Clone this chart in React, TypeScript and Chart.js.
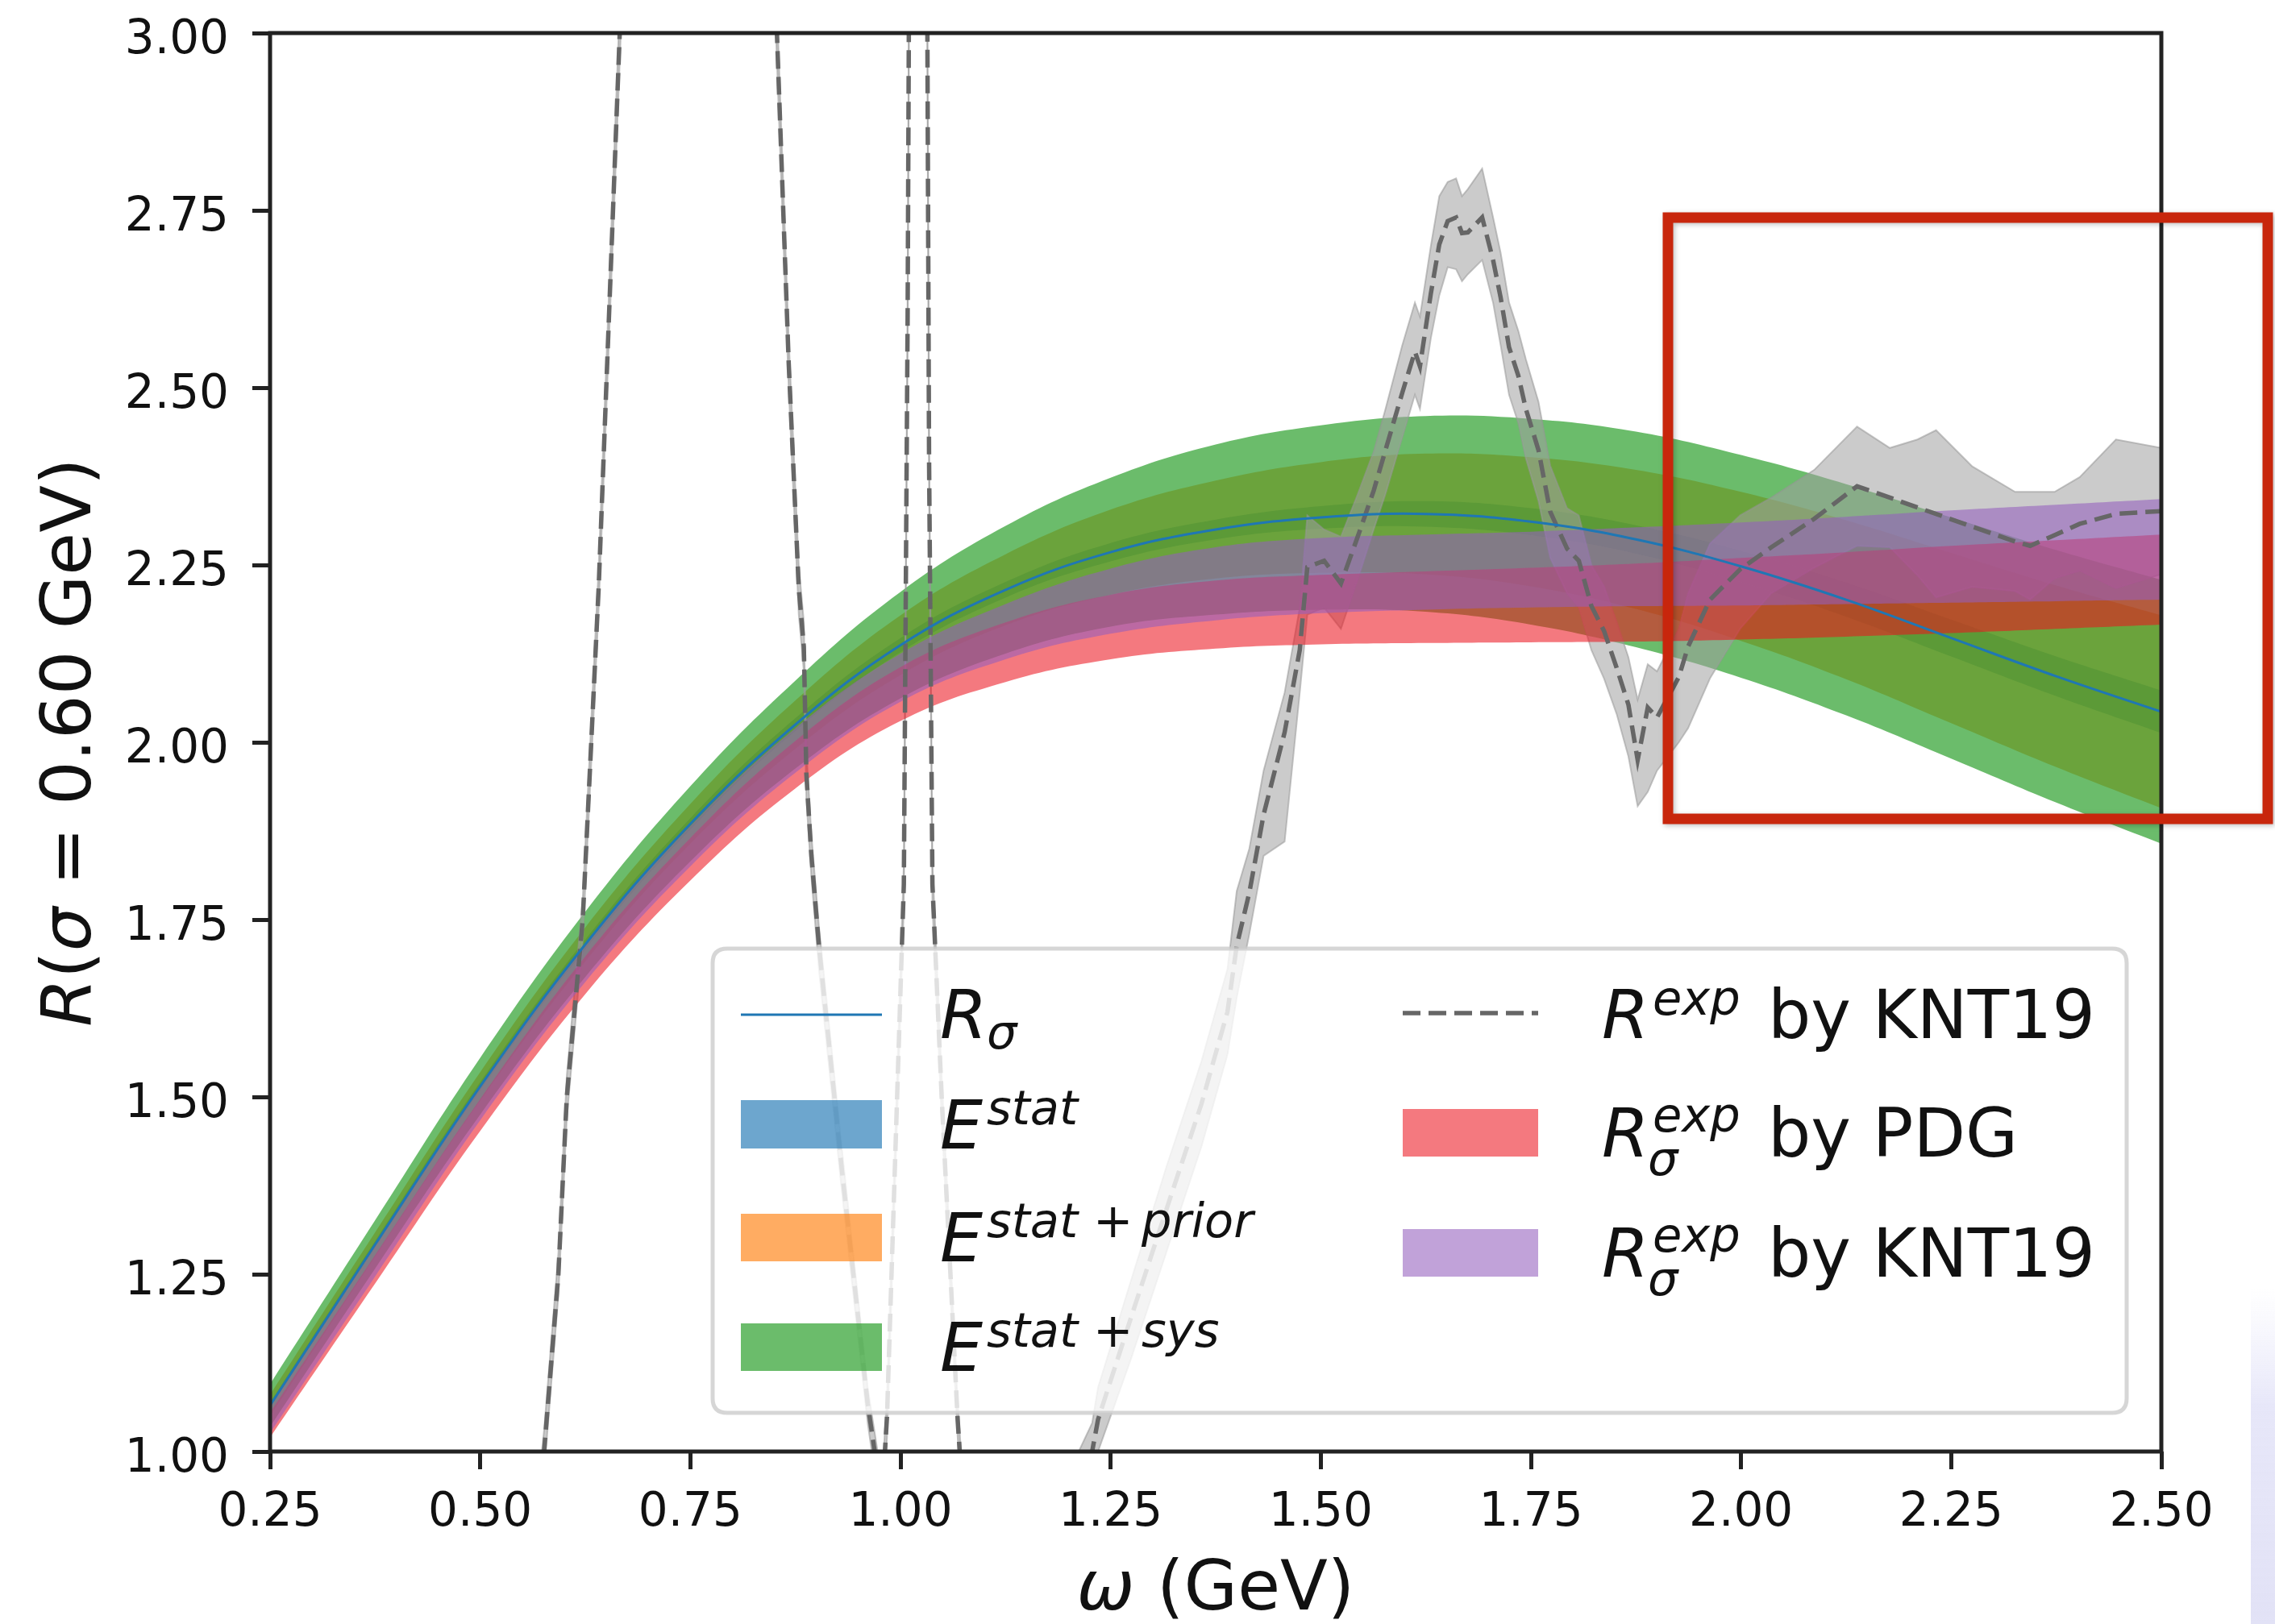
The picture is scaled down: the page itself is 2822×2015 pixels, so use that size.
import React, { useEffect, useRef } from 'react';
import { Chart, registerables } from 'chart.js';

Chart.register(...registerables);

const W = 2822;
const H = 2015;
const FONT = '"DejaVu Sans", "Noto Sans", sans-serif';

// ---- model curve and its error bands (ω grid in GeV) ----
const omegaGrid = [0.25, 0.375, 0.5, 0.625, 0.75, 0.875, 1.0, 1.125, 1.25, 1.375, 1.5, 1.625, 1.75, 1.875, 2.0, 2.125, 2.25, 2.375, 2.5];
const rSigma = [1.065, 1.292, 1.515, 1.715, 1.885, 2.025, 2.137, 2.215, 2.268, 2.3, 2.317, 2.322, 2.311, 2.286, 2.248, 2.201, 2.147, 2.093, 2.043];
const statLo = [1.061, 1.287, 1.509, 1.708, 1.877, 2.016, 2.127, 2.204, 2.255, 2.286, 2.301, 2.304, 2.292, 2.266, 2.226, 2.177, 2.121, 2.065, 2.013];
const statHi = [1.069, 1.297, 1.521, 1.722, 1.893, 2.034, 2.147, 2.226, 2.281, 2.314, 2.333, 2.34, 2.33, 2.306, 2.27, 2.225, 2.173, 2.121, 2.073];
const priorLo = [1.05, 1.275, 1.495, 1.691, 1.857, 1.991, 2.095, 2.165, 2.208, 2.231, 2.239, 2.237, 2.22, 2.188, 2.143, 2.089, 2.027, 1.965, 1.907];
const priorHi = [1.08, 1.309, 1.535, 1.739, 1.913, 2.059, 2.179, 2.265, 2.328, 2.369, 2.395, 2.407, 2.402, 2.384, 2.353, 2.313, 2.267, 2.221, 2.179];
const sysLo = [1.035, 1.258, 1.475, 1.669, 1.832, 1.963, 2.062, 2.125, 2.163, 2.18, 2.187, 2.184, 2.166, 2.134, 2.091, 2.038, 1.977, 1.915, 1.857];
const sysHi = [1.095, 1.326, 1.555, 1.761, 1.938, 2.087, 2.212, 2.305, 2.373, 2.42, 2.447, 2.46, 2.456, 2.438, 2.405, 2.364, 2.317, 2.271, 2.229];

// ---- smeared experimental ratio bands ----
const pdgLo = [1.02, 1.237, 1.452, 1.645, 1.805, 1.935, 2.03, 2.085, 2.117, 2.132, 2.138, 2.14, 2.141, 2.142, 2.145, 2.149, 2.154, 2.16, 2.166];
const pdgHi = [1.055, 1.277, 1.497, 1.698, 1.865, 2.002, 2.106, 2.169, 2.208, 2.228, 2.236, 2.241, 2.246, 2.252, 2.26, 2.268, 2.277, 2.285, 2.293];
const kntSigmaLo = [1.026, 1.247, 1.467, 1.662, 1.825, 1.957, 2.057, 2.117, 2.153, 2.172, 2.182, 2.187, 2.19, 2.192, 2.193, 2.195, 2.197, 2.199, 2.201];
const kntSigmaHi = [1.063, 1.29, 1.514, 1.714, 1.882, 2.02, 2.125, 2.195, 2.245, 2.275, 2.288, 2.293, 2.297, 2.303, 2.31, 2.318, 2.327, 2.335, 2.343];

// ---- unsmeared R ratio (KNT19 compilation) with its uncertainty ----
const kntOmega = [0.25, 0.4, 0.5, 0.55, 0.576, 0.593, 0.603, 0.622, 0.641, 0.666, 0.7, 0.775, 0.84, 0.853, 0.867, 0.879, 0.885, 0.888, 0.894, 0.903, 0.93, 0.961, 0.978, 0.984, 0.996, 1.004, 1.0085, 1.011, 1.02, 1.031, 1.034, 1.038, 1.049, 1.068, 1.076, 1.1, 1.15, 1.2, 1.228, 1.235, 1.274, 1.316, 1.358, 1.389, 1.4, 1.415, 1.432, 1.457, 1.475, 1.484, 1.504, 1.524, 1.544, 1.563, 1.577, 1.597, 1.612, 1.618, 1.631, 1.641, 1.651, 1.661, 1.668, 1.675, 1.692, 1.705, 1.714, 1.724, 1.735, 1.744, 1.759, 1.773, 1.793, 1.807, 1.822, 1.837, 1.852, 1.866, 1.877, 1.889, 1.9, 1.926, 1.937, 1.963, 1.999, 2.036, 2.087, 2.138, 2.177, 2.21, 2.232, 2.275, 2.326, 2.344, 2.373, 2.403, 2.446, 2.5];
const kntR = [0.1, 0.25, 0.45, 0.7, 1.0, 1.25, 1.5, 1.75, 2.22, 3.0, 4.1, 9.0, 3.43, 3.0, 2.535, 2.217, 2.135, 1.956, 1.84, 1.713, 1.4, 1.067, 0.93, 1.05, 1.5, 1.8, 2.6, 3.3, 20, 3.3, 2.4, 1.8, 1.5, 1.045, 0.9, 0.8, 0.82, 0.92, 1.0, 1.045, 1.188, 1.34, 1.49, 1.62, 1.713, 1.788, 1.898, 2.014, 2.13, 2.247, 2.256, 2.224, 2.29, 2.355, 2.412, 2.493, 2.551, 2.53, 2.633, 2.702, 2.735, 2.74, 2.718, 2.719, 2.74, 2.68, 2.627, 2.557, 2.517, 2.47, 2.412, 2.325, 2.273, 2.256, 2.192, 2.157, 2.105, 2.053, 1.975, 2.049, 2.035, 2.092, 2.135, 2.201, 2.244, 2.275, 2.315, 2.361, 2.345, 2.331, 2.322, 2.304, 2.283, 2.277, 2.292, 2.308, 2.322, 2.326];
const kntLo = [0.09, 0.23, 0.42, 0.67, 0.97, 1.22, 1.47, 1.72, 2.19, 2.96, 4.0, 8.8, 3.39, 2.96, 2.5, 2.18, 2.1, 1.92, 1.81, 1.68, 1.37, 1.04, 0.9, 1.02, 1.47, 1.77, 2.56, 3.25, 19.5, 3.25, 2.36, 1.77, 1.47, 1.02, 0.87, 0.76, 0.78, 0.88, 0.96, 1.0, 1.13, 1.28, 1.43, 1.56, 1.64, 1.73, 1.84, 1.86, 2.07, 2.18, 2.19, 2.16, 2.23, 2.3, 2.35, 2.43, 2.49, 2.47, 2.57, 2.63, 2.67, 2.667, 2.65, 2.66, 2.68, 2.62, 2.56, 2.49, 2.45, 2.4, 2.34, 2.26, 2.21, 2.19, 2.13, 2.09, 2.04, 1.98, 1.91, 1.93, 1.96, 2.0, 2.02, 2.09, 2.16, 2.21, 2.246, 2.277, 2.275, 2.235, 2.204, 2.219, 2.213, 2.201, 2.231, 2.242, 2.217, 2.237];
const kntHi = [0.11, 0.27, 0.48, 0.73, 1.03, 1.28, 1.53, 1.78, 2.25, 3.04, 4.2, 9.2, 3.47, 3.04, 2.57, 2.25, 2.17, 1.99, 1.87, 1.74, 1.43, 1.09, 0.96, 1.08, 1.53, 1.83, 2.64, 3.35, 20.5, 3.35, 2.44, 1.83, 1.53, 1.07, 0.93, 0.85, 0.87, 0.97, 1.04, 1.09, 1.24, 1.4, 1.55, 1.68, 1.79, 1.85, 1.96, 2.07, 2.19, 2.32, 2.3, 2.29, 2.35, 2.41, 2.47, 2.56, 2.62, 2.6, 2.7, 2.77, 2.79, 2.795, 2.77, 2.78, 2.809, 2.74, 2.69, 2.62, 2.58, 2.54, 2.48, 2.39, 2.33, 2.32, 2.25, 2.22, 2.17, 2.12, 2.06, 2.11, 2.1, 2.16, 2.21, 2.28, 2.32, 2.345, 2.384, 2.445, 2.415, 2.427, 2.44, 2.389, 2.353, 2.353, 2.353, 2.374, 2.427, 2.415];

// ---- axis ticks ----
const xTicks = [0.25, 0.5, 0.75, 1.0, 1.25, 1.5, 1.75, 2.0, 2.25, 2.5];
const xTickLabels = ['0.25', '0.50', '0.75', '1.00', '1.25', '1.50', '1.75', '2.00', '2.25', '2.50'];
const yTicks = [1.0, 1.25, 1.5, 1.75, 2.0, 2.25, 2.5, 2.75, 3.0];
const yTickLabels = ['1.00', '1.25', '1.50', '1.75', '2.00', '2.25', '2.50', '2.75', '3.00'];

// ---- styling ----
const C_STAT = 'rgba(31,119,180,0.65)';
const C_PRIOR = 'rgba(255,127,14,0.65)';
const C_SYS = 'rgba(44,160,44,0.7)';
const C_PDG = 'rgba(235,20,30,0.57)';
const C_KNTS = 'rgba(148,95,190,0.58)';
const C_GRAY = 'rgba(160,160,160,0.55)';
const C_DASH = '#666666';
const C_LINE = '#1f77b4';
const INK = '#111111';
const SPINE = '#222222';

const AREA = { left: 335, top: 41, right: 2681, bottom: 1801 };

type Run = { t: string; it?: boolean; s: number; dy?: number; x?: number };

function drawRuns(ctx: CanvasRenderingContext2D, x0: number, y: number, runs: Run[]) {
  let x = x0;
  for (const r of runs) {
    if (r.x !== undefined) x = r.x;
    ctx.font = `${r.it ? 'italic ' : ''}${r.s}px ${FONT}`;
    ctx.fillText(r.t, x, y + (r.dy || 0));
    x += ctx.measureText(r.t).width;
  }
  return x;
}

function runsWidth(ctx: CanvasRenderingContext2D, runs: Run[]) {
  let w = 0;
  for (const r of runs) {
    ctx.font = `${r.it ? 'italic ' : ''}${r.s}px ${FONT}`;
    w += ctx.measureText(r.t).width;
  }
  return w;
}

function roundRect(ctx: CanvasRenderingContext2D, x: number, y: number, w: number, h: number, r: number) {
  ctx.beginPath();
  ctx.moveTo(x + r, y);
  ctx.lineTo(x + w - r, y);
  ctx.quadraticCurveTo(x + w, y, x + w, y + r);
  ctx.lineTo(x + w, y + h - r);
  ctx.quadraticCurveTo(x + w, y + h, x + w - r, y + h);
  ctx.lineTo(x + r, y + h);
  ctx.quadraticCurveTo(x, y + h, x, y + h - r);
  ctx.lineTo(x, y + r);
  ctx.quadraticCurveTo(x, y, x + r, y);
  ctx.closePath();
}

const legendPlugin = {
  id: 'mathLegend',
  afterDatasetsDraw(chart: any) {
    const ctx: CanvasRenderingContext2D = chart.ctx;
    ctx.save();
    // frame
    roundRect(ctx, 884, 1177, 1754, 576, 18);
    ctx.fillStyle = 'rgba(255,255,255,0.8)';
    ctx.fill();
    ctx.lineWidth = 5;
    ctx.strokeStyle = 'rgba(204,204,204,0.8)';
    ctx.stroke();

    ctx.fillStyle = INK;
    ctx.textBaseline = 'alphabetic';
    ctx.textAlign = 'left';

    // column 1
    ctx.strokeStyle = C_LINE;
    ctx.lineWidth = 3;
    ctx.beginPath();
    ctx.moveTo(919, 1259);
    ctx.lineTo(1094, 1259);
    ctx.stroke();
    ctx.fillStyle = INK;
    drawRuns(ctx, 1166, 1288, [
      { t: 'R', it: true, s: 84, x: 1166 },
      { t: 'σ', it: true, s: 59, x: 1224, dy: 13 },
    ]);

    ctx.fillStyle = C_STAT;
    ctx.fillRect(919, 1365, 175, 60);
    ctx.fillStyle = INK;
    drawRuns(ctx, 1166, 1425, [
      { t: 'E', it: true, s: 84, x: 1166 },
      { t: 'stat', it: true, s: 59, x: 1224, dy: -30 },
    ]);

    ctx.fillStyle = C_PRIOR;
    ctx.fillRect(919, 1506, 175, 59);
    ctx.fillStyle = INK;
    drawRuns(ctx, 1166, 1565, [
      { t: 'E', it: true, s: 84, x: 1166 },
      { t: 'stat', it: true, s: 59, x: 1224, dy: -30 },
      { t: '+', s: 59, x: 1356, dy: -30 },
      { t: 'prior', it: true, s: 59, x: 1416, dy: -30 },
    ]);

    ctx.fillStyle = C_SYS;
    ctx.fillRect(919, 1642, 175, 59);
    ctx.fillStyle = INK;
    drawRuns(ctx, 1166, 1701, [
      { t: 'E', it: true, s: 84, x: 1166 },
      { t: 'stat', it: true, s: 59, x: 1224, dy: -30 },
      { t: '+', s: 59, x: 1356, dy: -30 },
      { t: 'sys', it: true, s: 59, x: 1416, dy: -30 },
    ]);

    // column 2
    ctx.strokeStyle = C_DASH;
    ctx.lineWidth = 5.5;
    ctx.setLineDash([22, 10]);
    ctx.beginPath();
    ctx.moveTo(1740, 1257);
    ctx.lineTo(1908, 1257);
    ctx.stroke();
    ctx.setLineDash([]);
    ctx.fillStyle = INK;
    drawRuns(ctx, 1987, 1288, [
      { t: 'R', it: true, s: 84, x: 1987 },
      { t: 'exp', it: true, s: 59, x: 2050, dy: -29 },
      { t: 'by KNT19', s: 84, x: 2193 },
    ]);

    ctx.fillStyle = C_PDG;
    ctx.fillRect(1740, 1376, 168, 59);
    ctx.fillStyle = INK;
    drawRuns(ctx, 1987, 1435, [
      { t: 'R', it: true, s: 84, x: 1987 },
      { t: 'σ', it: true, s: 59, x: 2044, dy: 23 },
      { t: 'exp', it: true, s: 59, x: 2050, dy: -31 },
      { t: 'by PDG', s: 84, x: 2193 },
    ]);

    ctx.fillStyle = C_KNTS;
    ctx.fillRect(1740, 1525, 168, 59);
    ctx.fillStyle = INK;
    drawRuns(ctx, 1987, 1584, [
      { t: 'R', it: true, s: 84, x: 1987 },
      { t: 'σ', it: true, s: 59, x: 2044, dy: 23 },
      { t: 'exp', it: true, s: 59, x: 2050, dy: -31 },
      { t: 'by KNT19', s: 84, x: 2193 },
    ]);
    ctx.restore();
  },
  afterDraw(chart: any) {
    const ctx: CanvasRenderingContext2D = chart.ctx;
    const { left, top, right, bottom } = chart.chartArea;
    const xs = chart.scales.x;
    const ys = chart.scales.y;
    ctx.save();

    // axes frame
    ctx.strokeStyle = SPINE;
    ctx.lineWidth = 5;
    ctx.strokeRect(left, top, right - left, bottom - top);

    // tick labels
    ctx.fillStyle = INK;
    ctx.font = `58px ${FONT}`;
    ctx.textBaseline = 'alphabetic';
    ctx.textAlign = 'center';
    xTicks.forEach((v, i) => {
      ctx.fillText(xTickLabels[i], xs.getPixelForValue(v), 1893);
    });
    ctx.textAlign = 'right';
    yTicks.forEach((v, i) => {
      ctx.fillText(yTickLabels[i], 284, ys.getPixelForValue(v) + 25);
    });

    // axis titles
    ctx.textAlign = 'left';
    const xRuns: Run[] = [
      { t: 'ω', it: true, s: 86 },
      { t: ' (GeV)', s: 86 },
    ];
    const xw = runsWidth(ctx, xRuns);
    drawRuns(ctx, (left + right) / 2 - xw / 2, 1997, xRuns);

    const yRuns: Run[] = [
      { t: 'R', it: true, s: 86 },
      { t: '(', s: 86 },
      { t: 'σ', it: true, s: 86 },
      { t: ' = ', s: 86 },
      { t: '0.60', s: 86 },
      { t: ' GeV)', s: 86 },
    ];
    const yw = runsWidth(ctx, yRuns);
    ctx.save();
    ctx.translate(112, (top + bottom) / 2);
    ctx.rotate(-Math.PI / 2);
    drawRuns(ctx, -yw / 2, 0, yRuns);
    ctx.restore();

    // highlighted region
    ctx.save();
    ctx.shadowColor = 'rgba(0,0,0,0.25)';
    ctx.shadowBlur = 6;
    ctx.shadowOffsetX = 2;
    ctx.shadowOffsetY = 2;
    ctx.strokeStyle = '#c8260c';
    ctx.lineWidth = 13;
    ctx.lineJoin = 'miter';
    ctx.strokeRect(2069, 270, 2813 - 2069, 1016 - 270);
    ctx.restore();

    // faint page edge at bottom right
    const g = ctx.createLinearGradient(0, 1600, 0, 2015);
    g.addColorStop(0, 'rgba(232,232,250,0)');
    g.addColorStop(0.35, 'rgba(228,228,248,0.9)');
    g.addColorStop(1, 'rgba(226,226,246,1)');
    ctx.fillStyle = g;
    ctx.fillRect(2792, 1600, 30, 415);

    ctx.restore();
  },
};

function pts(xs: number[], ys: number[]) {
  return xs.map((x, i) => ({ x, y: ys[i] }));
}

export default function App() {
  const ref = useRef<HTMLCanvasElement | null>(null);

  useEffect(() => {
    const canvas = ref.current;
    if (!canvas) return;

    const datasets: any[] = [];
    const band = (lo: number[], hi: number[], xs: number[], color: string, order: number, smooth: boolean, edge?: string) => {
      const loIndex = datasets.length + 1;
      datasets.push({
        data: pts(xs, hi),
        borderColor: edge || 'rgba(0,0,0,0)',
        borderWidth: edge ? 2 : 1,
        backgroundColor: color,
        fill: loIndex,
        pointRadius: 0,
        order,
        tension: smooth ? 0.4 : 0,
      });
      datasets.push({
        data: pts(xs, lo),
        borderColor: edge || 'rgba(0,0,0,0)',
        borderWidth: edge ? 2 : 1,
        fill: false,
        pointRadius: 0,
        order,
        tension: smooth ? 0.4 : 0,
      });
    };

    band(statLo, statHi, omegaGrid, C_STAT, 10, true);
    band(priorLo, priorHi, omegaGrid, C_PRIOR, 9, true);
    band(sysLo, sysHi, omegaGrid, C_SYS, 8, true);
    band(kntLo, kntHi, kntOmega, C_GRAY, 7, false, 'rgba(150,150,150,0.55)');
    band(pdgLo, pdgHi, omegaGrid, C_PDG, 6, true);
    band(kntSigmaLo, kntSigmaHi, omegaGrid, C_KNTS, 5, true);

    datasets.push({
      data: pts(kntOmega, kntR),
      borderColor: C_DASH,
      borderWidth: 5.5,
      borderDash: [22, 10],
      fill: false,
      pointRadius: 0,
      order: 2,
      tension: 0,
    });
    datasets.push({
      data: pts(omegaGrid, rSigma),
      borderColor: C_LINE,
      borderWidth: 3,
      fill: false,
      pointRadius: 0,
      order: 1,
      tension: 0.4,
    });

    const chart = new Chart(canvas, {
      type: 'line',
      data: { datasets },
      options: {
        animation: false,
        responsive: false,
        devicePixelRatio: 1,
        events: [],
        layout: { padding: { left: 0, top: AREA.top, right: W - AREA.right, bottom: 0 } },
        plugins: {
          legend: { display: false },
          tooltip: { enabled: false },
          filler: { propagate: false },
        },
        scales: {
          x: {
            type: 'linear',
            min: 0.25,
            max: 2.5,
            ticks: { stepSize: 0.25, display: false },
            grid: { drawOnChartArea: false, drawTicks: true, tickLength: 22, tickWidth: 5, tickColor: SPINE },
            border: { display: false },
            afterFit: (s: any) => { s.height = H - AREA.bottom; },
          },
          y: {
            type: 'linear',
            min: 1,
            max: 3,
            ticks: { stepSize: 0.25, display: false },
            grid: { drawOnChartArea: false, drawTicks: true, tickLength: 22, tickWidth: 5, tickColor: SPINE },
            border: { display: false },
            afterFit: (s: any) => { s.width = AREA.left; },
          },
        },
      },
      plugins: [legendPlugin],
    });

    return () => chart.destroy();
  }, []);

  return (
    <div style={{ position: 'fixed', left: 0, top: 0, width: W, height: H, background: '#ffffff' }}>
      <canvas ref={ref} width={W} height={H} style={{ display: 'block', width: W, height: H }} />
    </div>
  );
}
